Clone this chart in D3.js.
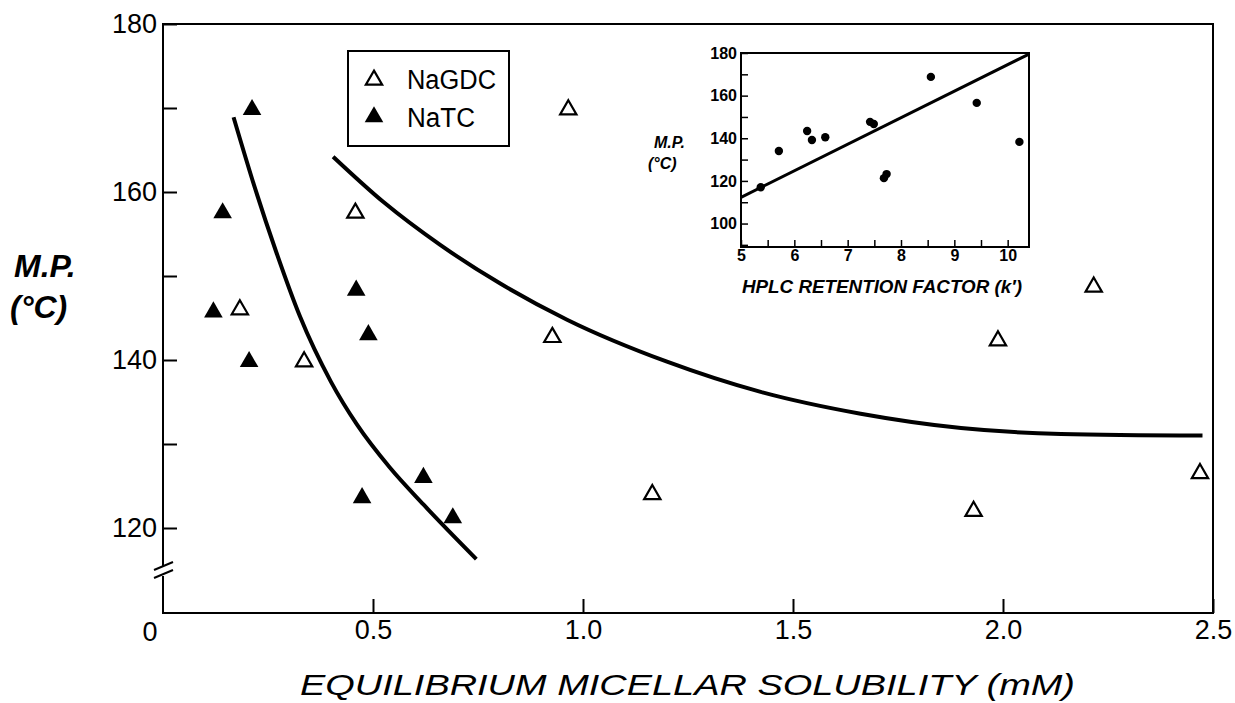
<!DOCTYPE html>
<html>
<head>
<meta charset="utf-8">
<script src="https://cdn.jsdelivr.net/npm/d3@7"></script>
<style>
  body { margin: 0; background: #fff; }
  text { font-family: "Liberation Sans", Arial, sans-serif; fill: #000; }
</style>
</head>
<body>
<div id="chart"></div>
<script>
var width = 1235, height = 703;

// main plot: equilibrium micellar solubility (mM) vs melting point (°C)
var gdcX = [0.183, 0.336, 0.458, 0.965, 0.927, 1.165, 1.988, 1.93, 2.216, 2.469];
var gdcY = [146, 139.8, 157.5, 169.8, 142.7, 124, 142.3, 122, 148.7, 126.5];
var tcX = [0.212, 0.142, 0.12, 0.205, 0.46, 0.489, 0.474, 0.62, 0.69];
var tcY = [169.8, 157.5, 145.7, 139.8, 148.3, 143, 123.6, 126, 121.2];

// hand-drawn trend curves
var tcCurveX = [0.168, 0.22, 0.27, 0.326, 0.40, 0.462, 0.54, 0.62, 0.746];
var tcCurveY = [168.9, 160.3, 152.8, 145.2, 137.4, 132.3, 127.2, 122.8, 116.3];
var gdcCurveX = [0.405, 0.525, 0.66, 0.803, 0.962, 1.2, 1.423, 1.661, 1.9, 2.138, 2.475];
var gdcCurveY = [164.2, 158.8, 153.7, 149.1, 144.8, 139.8, 136.2, 133.6, 131.9, 131.2, 131];

var xTicks = [0.5, 1.0, 1.5, 2.0, 2.5];
var yTicks = [120, 130, 140, 150, 160, 170, 180];

// inset: HPLC retention factor vs melting point
var insetX = [5.37, 5.71, 6.24, 6.33, 6.58, 7.42, 7.49, 7.68, 7.73, 8.56, 9.42, 10.22];
var insetY = [117, 134, 143.4, 139.2, 140.5, 147.7, 146.7, 121.3, 123.2, 168.8, 156.6, 138.3];
var insetLineX = [5, 10.4];
var insetLineY = [112.3, 179.5];
var insetXTicks = [5, 5.5, 6, 6.5, 7, 7.5, 8, 8.5, 9, 9.5, 10];
var insetYTicks = [90, 100, 110, 120, 130, 140, 150, 160, 170, 180];

var svg = d3.select('#chart').append('svg')
            .attr('width', width).attr('height', height);

var mLeft = 163, mRight = 1213, mTop = 24, mBottom = 613;
var x = d3.scaleLinear().domain([0, 2.5]).range([mLeft, mRight]);
var y = d3.scaleLinear().domain([120, 180]).range([528, mTop]);

// frame with axis break
var frame = svg.append('g').attr('stroke', '#000').attr('stroke-width', 2).attr('fill', 'none');
frame.append('path').attr('d', 'M' + mLeft + ',' + 567 + 'V' + mTop + 'H' + mRight + 'V' + mBottom + 'H' + mLeft + 'V' + 576);
frame.append('line').attr('x1', mLeft - 9).attr('y1', 570).attr('x2', mLeft + 10).attr('y2', 562);
frame.append('line').attr('x1', mLeft - 9).attr('y1', 578).attr('x2', mLeft + 10).attr('y2', 570);

var yAxis = svg.append('g').attr('transform', 'translate(' + mLeft + ',0)')
  .call(d3.axisLeft(y).tickValues(yTicks).tickSize(-14).tickPadding(6)
    .tickFormat(function(d){ return d % 20 === 0 ? d : ''; }));
yAxis.select('.domain').remove();
yAxis.selectAll('line').attr('stroke-width', 2);
yAxis.selectAll('text').attr('font-size', 27).attr('font-family', '"Liberation Sans", Arial, sans-serif');

var xAxis = svg.append('g').attr('transform', 'translate(0,' + mBottom + ')')
  .call(d3.axisBottom(x).tickValues(xTicks).tickSize(-14).tickPadding(7)
    .tickFormat(d3.format('.1f')));
xAxis.select('.domain').remove();
xAxis.selectAll('line').attr('stroke-width', 2);
xAxis.selectAll('text').attr('font-size', 27).attr('font-family', '"Liberation Sans", Arial, sans-serif');

svg.append('text').attr('x', x(0) - 13).attr('y', mBottom + 28)
  .attr('text-anchor', 'middle').attr('font-size', 27).text('0');

// axis titles
svg.append('text').attr('x', 300).attr('y', 695)
  .attr('font-size', 30).attr('font-style', 'italic')
  .attr('font-family', '"DejaVu Sans", sans-serif')
  .attr('textLength', 775).attr('lengthAdjust', 'spacingAndGlyphs')
  .text('EQUILIBRIUM  MICELLAR  SOLUBILITY  (mM)');
svg.append('text').attr('x', 14).attr('y', 277)
  .attr('font-size', 32).attr('font-style', 'italic').attr('font-weight', 'bold')
  .text('M.P.');
svg.append('text').attr('x', 10).attr('y', 318)
  .attr('font-size', 32).attr('font-style', 'italic').attr('font-weight', 'bold')
  .text('(°C)');

// curves
var line = d3.line().curve(d3.curveMonotoneX)
  .x(function(d){ return x(d[0]); }).y(function(d){ return y(d[1]); });
svg.append('path').datum(d3.zip(tcCurveX, tcCurveY)).attr('d', line)
  .attr('fill', 'none').attr('stroke', '#000').attr('stroke-width', 4);
svg.append('path').datum(d3.zip(gdcCurveX, gdcCurveY)).attr('d', line)
  .attr('fill', 'none').attr('stroke', '#000').attr('stroke-width', 4);

// markers
var tri = d3.symbol().type(d3.symbolTriangle).size(115);
svg.selectAll('.gdc').data(d3.zip(gdcX, gdcY)).enter().append('path')
  .attr('class', 'gdc').attr('d', tri)
  .attr('transform', function(d){ return 'translate(' + x(d[0]) + ',' + y(d[1]) + ')'; })
  .attr('fill', '#fff').attr('stroke', '#000').attr('stroke-width', 2.2);
svg.selectAll('.tc').data(d3.zip(tcX, tcY)).enter().append('path')
  .attr('class', 'tc').attr('d', d3.symbol().type(d3.symbolTriangle).size(150))
  .attr('transform', function(d){ return 'translate(' + x(d[0]) + ',' + y(d[1]) + ')'; })
  .attr('fill', '#000');

// legend
var legend = svg.append('g');
legend.append('rect').attr('x', 348).attr('y', 51).attr('width', 161).attr('height', 95)
  .attr('fill', '#fff').attr('stroke', '#000').attr('stroke-width', 2);
legend.append('path').attr('d', tri).attr('transform', 'translate(374,80)')
  .attr('fill', '#fff').attr('stroke', '#000').attr('stroke-width', 2.2);
legend.append('path').attr('d', d3.symbol().type(d3.symbolTriangle).size(150))
  .attr('transform', 'translate(374,117)').attr('fill', '#000');
legend.append('text').attr('x', 407).attr('y', 89).attr('font-size', 27)
  .attr('textLength', 89).attr('lengthAdjust', 'spacingAndGlyphs').text('NaGDC');
legend.append('text').attr('x', 407).attr('y', 127).attr('font-size', 27)
  .attr('textLength', 68).attr('lengthAdjust', 'spacingAndGlyphs').text('NaTC');

// inset
var ix = d3.scaleLinear().domain([5, 10.4]).range([741, 1029]);
var iy = d3.scaleLinear().domain([89, 180]).range([247, 53]);
var inset = svg.append('g');
inset.append('rect').attr('x', 741).attr('y', 53).attr('width', 288).attr('height', 194)
  .attr('fill', 'none').attr('stroke', '#000').attr('stroke-width', 2);

var iyAxis = inset.append('g').attr('transform', 'translate(741,0)')
  .call(d3.axisLeft(iy).tickValues(insetYTicks).tickSize(-7).tickPadding(4)
    .tickFormat(function(d){ return d % 20 === 0 ? d : ''; }));
iyAxis.select('.domain').remove();
iyAxis.selectAll('line').attr('stroke-width', 1.5);
iyAxis.selectAll('text').attr('font-size', 16).attr('font-weight', 'bold')
  .attr('font-family', '"Liberation Sans", Arial, sans-serif');

var ixAxis = inset.append('g').attr('transform', 'translate(0,247)')
  .call(d3.axisBottom(ix).tickValues(insetXTicks).tickSize(-7).tickPadding(3)
    .tickFormat(function(d){ return d % 1 === 0 ? d : ''; }));
ixAxis.select('.domain').remove();
ixAxis.selectAll('line').attr('stroke-width', 1.5);
ixAxis.selectAll('text').attr('font-size', 16).attr('font-weight', 'bold')
  .attr('font-family', '"Liberation Sans", Arial, sans-serif');

inset.append('line')
  .attr('x1', ix(insetLineX[0])).attr('y1', iy(insetLineY[0]))
  .attr('x2', ix(insetLineX[1])).attr('y2', iy(insetLineY[1]))
  .attr('stroke', '#000').attr('stroke-width', 3);

inset.selectAll('circle').data(d3.zip(insetX, insetY)).enter().append('circle')
  .attr('cx', function(d){ return ix(d[0]); })
  .attr('cy', function(d){ return iy(d[1]); })
  .attr('r', 4.2).attr('fill', '#000');

inset.append('text').attr('x', 742).attr('y', 293)
  .attr('font-size', 18).attr('font-style', 'italic').attr('font-weight', 'bold')
  .attr('textLength', 280).attr('lengthAdjust', 'spacingAndGlyphs')
  .text('HPLC RETENTION FACTOR (k′)');
inset.append('text').attr('x', 654).attr('y', 148)
  .attr('font-size', 16).attr('font-style', 'italic').attr('font-weight', 'bold')
  .text('M.P.');
inset.append('text').attr('x', 648).attr('y', 169)
  .attr('font-size', 16).attr('font-style', 'italic').attr('font-weight', 'bold')
  .text('(°C)');
</script>
</body>
</html>
